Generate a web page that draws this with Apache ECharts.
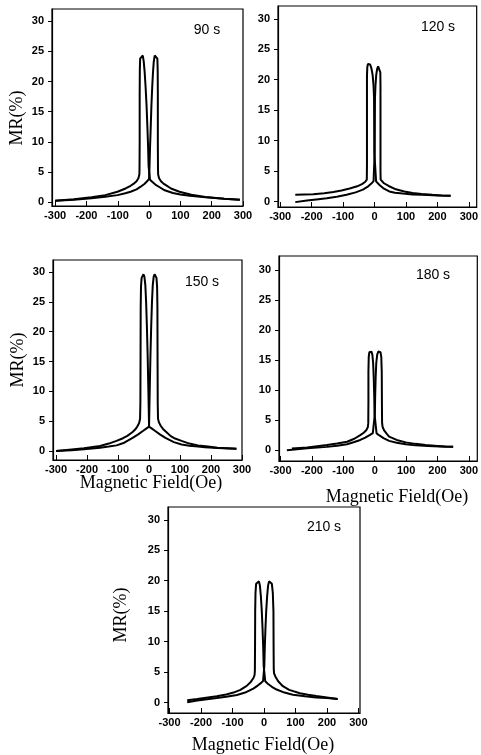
<!DOCTYPE html>
<html>
<head>
<meta charset="utf-8">
<script src="https://cdn.jsdelivr.net/npm/echarts@6/dist/echarts.min.js"></script>
<style>
  html, body { margin: 0; padding: 0; background: #fff; }
  #chart { width: 481px; height: 755px; }
</style>
</head>
<body>
<div id="chart"></div>
<script>
// annealing times, one panel each
var panelNames = ["90 s", "120 s", "150 s", "180 s", "210 s"];
var xTicks = [-300, -200, -100, 0, 100, 200, 300];
var yTicks = [0, 5, 10, 15, 20, 25, 30];

// [H (Oe), MR (%)] - sweep from +H to -H
var mr90Down = [[290,0.45],[240,0.6],[180,0.85],[130,1.1],[100,1.3],[76,1.55],[50,2.0],[34,2.5],[20,2.95],[10,3.4],[3,3.75],[0,3.9],
  [-1.5,6],[-3,9],[-5,12],[-8,16],[-11,19],[-14,21.5],[-17,23.3],[-20,24.3],[-23,24.6],[-26,24.5],[-28.5,23.8],[-29.5,22],[-30,18],[-30,10],[-30.5,5.5],[-31,4.6],
  [-34,4.0],[-40,3.5],[-50,3.05],[-59,2.75],[-75,2.3],[-101,1.75],[-140,1.2],[-184,0.85],[-240,0.5],[-300,0.25]];
// sweep from -H to +H
var mr90Up = [[-300,0.25],[-240,0.45],[-184,0.7],[-140,0.95],[-101,1.2],[-76,1.5],[-59,1.75],[-40,2.15],[-28,2.55],[-15,3.05],[-7,3.45],[-2,3.75],[0,3.9],
  [1.5,6],[3,9],[5,12],[7.5,16],[10,19],[12.5,21.5],[15,23.3],[18,24.3],[21,24.6],[24,24.5],[26.5,23.8],[27.5,22],[28,18],[28,10],[28.5,5.5],[29,4.6],
  [32,4.0],[38,3.5],[46,3.1],[55,2.8],[70,2.3],[97,1.75],[135,1.25],[180,0.9],[240,0.6],[290,0.45]];

var mr120Down = [[242,0.95],[200,1.0],[170,1.05],[150,1.1],[121,1.15],[90,1.3],[65,1.45],[47,1.65],[30,2.1],[15,2.75],[5,3.3],[0,3.6],
  [-0.5,8],[-1,13],[-1.5,17],[-3,19],[-6,20.8],[-10,21.9],[-14,22.5],[-18,22.7],[-21,22.6],[-23,22],[-24,20.5],[-24,14],[-24,6],[-24.5,3.6],
  [-30,3.2],[-40,2.85],[-55,2.5],[-79,2.15],[-105,1.8],[-131,1.55],[-160,1.35],[-195,1.2],[-252,1.1]];
var mr120Up = [[-252,-0.1],[-215,0.15],[-185,0.35],[-152,0.55],[-120,0.8],[-89,1.1],[-60,1.5],[-37,1.95],[-20,2.5],[-10,2.95],[-3,3.35],[0,3.6],
  [0.5,8],[1,13],[1.5,17],[3,19],[5.5,20.8],[8.5,21.8],[11.5,22.2],[14.5,22.3],[17,22.1],[18.5,21.2],[19,19],[19,12],[19,5],[19.5,3.6],
  [23,3.3],[30,3.0],[45,2.55],[68,2.0],[95,1.65],[121,1.4],[150,1.25],[184,1.1],[215,1.0],[242,0.95]];

var mr150Down = [[282,0.4],[221,0.5],[180,0.65],[158,0.75],[130,0.9],[105,1.1],[80,1.5],[53,2.2],[35,2.8],[20,3.35],[8,3.8],[0,4.1],
  [-1,7],[-2.5,11],[-4.5,16],[-7,21],[-9.5,25],[-12,27.8],[-15,29.2],[-18,29.6],[-21,29.5],[-24,29.0],[-26,27.5],[-27,24],[-27.5,15],[-28,8],[-29,5.4],
  [-32,4.7],[-38,4.1],[-45,3.6],[-53,3.2],[-70,2.55],[-84,2.15],[-105,1.7],[-130,1.25],[-158,0.85],[-210,0.45],[-250,0.25],[-300,0.0]];
var mr150Up = [[-300,0.0],[-250,0.15],[-210,0.3],[-158,0.55],[-130,0.75],[-105,0.95],[-80,1.4],[-53,2.2],[-35,2.8],[-20,3.35],[-8,3.8],[0,4.1],
  [1,7],[2.5,11],[4.5,16],[7,21],[9.5,25],[12,27.8],[15,29.2],[18,29.6],[21,29.5],[24,29.0],[26,27.5],[27,24],[27.5,15],[28,8],[29,5.4],
  [32,4.8],[38,4.2],[45,3.7],[53,3.3],[70,2.5],[84,2.1],[105,1.7],[130,1.25],[158,0.95],[190,0.75],[221,0.55],[282,0.4]];

var mr180Down = [[250,0.55],[226,0.55],[170,0.7],[130,0.8],[99,1.0],[70,1.25],[46,1.55],[28,2.0],[15,2.45],[6,2.8],[0,3.05],
  [-0.5,6],[-1.5,9],[-3,12],[-5,14.5],[-7.5,15.9],[-10.5,16.4],[-14,16.5],[-17,16.3],[-19,15.5],[-20,13],[-20,8],[-20.5,4.5],
  [-22,3.8],[-27,3.3],[-35,2.9],[-46,2.5],[-65,1.9],[-88,1.4],[-120,1.1],[-152,0.85],[-215,0.45],[-264,0.3]];
var mr180Up = [[-280,0.0],[-215,0.3],[-152,0.55],[-120,0.75],[-88,1.0],[-65,1.35],[-46,1.7],[-30,2.1],[-15,2.55],[-6,2.85],[0,3.05],
  [0.5,6],[1.5,9],[3,12],[5,14.5],[8,15.9],[11.5,16.4],[15,16.5],[18.5,16.3],[21,15.5],[22.5,13],[23,8],[23.5,4.6],
  [25,3.9],[30,3.3],[38,2.75],[46,2.25],[70,1.7],[99,1.3],[130,1.05],[162,0.85],[200,0.7],[226,0.6],[250,0.55]];

var mr210Down = [[234,0.6],[200,0.75],[166,0.85],[130,1.05],[92,1.3],[65,1.65],[40,2.15],[25,2.6],[12,3.1],[4,3.5],[0,3.7],
  [-1,6],[-2.5,9],[-4.5,12],[-7,15],[-10,17.5],[-13,19.2],[-16,19.9],[-19,20.1],[-22,20.0],[-25,19.5],[-27,18],[-28,15],[-28.5,9],[-29,5.2],
  [-30,4.5],[-34,4.0],[-42,3.4],[-55,2.75],[-75,2.1],[-97,1.65],[-120,1.35],[-150,1.05],[-212,0.6],[-244,0.4]];
var mr210Up = [[-244,0.05],[-212,0.35],[-150,0.75],[-120,0.95],[-86,1.25],[-60,1.65],[-34,2.3],[-20,2.8],[-10,3.2],[-3,3.55],[0,3.7],
  [1,6],[2.5,9],[4.5,12],[7,15],[10,17.5],[13,19.2],[16,19.9],[19,20.1],[22,20.0],[25,19.5],[28,18],[30,15],[30.5,9],[31,5.5],
  [32,4.8],[36,4.3],[45,3.5],[60,2.7],[80,2.1],[114,1.55],[140,1.3],[166,1.1],[200,0.85],[234,0.6]];

var curves = [
  [mr90Down, mr90Up],
  [mr120Down, mr120Up],
  [mr150Down, mr150Up],
  [mr180Down, mr180Up],
  [mr210Down, mr210Up]
];

// layout of the five frames
var boxes = [
  { left: 52, top: 9, width: 191, height: 197, x: [-310, 300], y: [-0.6, 32.0] },
  { left: 278, top: 6, width: 200, height: 201, x: [-307, 325], y: [-0.9, 32.1] },
  { left: 53, top: 260, width: 189, height: 200, x: [-310, 300], y: [-1.5, 32.0] },
  { left: 279, top: 256, width: 200, height: 205, x: [-305, 327], y: [-1.8, 32.3] },
  { left: 168, top: 507, width: 192, height: 206, x: [-305, 305], y: [-1.7, 32.1] }
];

var tickFont = { color: "#000", fontFamily: "Liberation Sans, Arial, sans-serif", fontSize: 11, fontWeight: "bold" };

var grid = [], xAxis = [], yAxis = [], series = [];
boxes.forEach(function (b, i) {
  grid.push({
    left: b.left, top: b.top, width: b.width, height: b.height,
    show: true, borderColor: "#000", borderWidth: 1.2, backgroundColor: "transparent"
  });
  xAxis.push({
    gridIndex: i, type: "value", min: b.x[0], max: b.x[1],
    splitLine: { show: false },
    axisLine: { show: true, onZero: false, lineStyle: { color: "#000", width: 1.2 } },
    axisTick: { show: true, inside: true, length: 5, customValues: xTicks, lineStyle: { color: "#000" } },
    axisLabel: Object.assign({ margin: 4, customValues: xTicks }, tickFont)
  });
  yAxis.push({
    gridIndex: i, type: "value", min: b.y[0], max: b.y[1],
    splitLine: { show: false },
    axisLine: { show: true, onZero: false, lineStyle: { color: "#000", width: 1.2 } },
    axisTick: { show: true, inside: false, length: 4, customValues: yTicks, lineStyle: { color: "#000" } },
    axisLabel: Object.assign({ margin: 8, customValues: yTicks }, tickFont)
  });
  curves[i].forEach(function (d) {
    series.push({
      type: "line", xAxisIndex: i, yAxisIndex: i, data: d,
      showSymbol: false, smooth: false, silent: true,
      lineStyle: { color: "#000", width: 2 }
    });
  });
});

var serif = '18px "Liberation Serif", "Times New Roman", serif';
var sans = '14px "Liberation Sans", Arial, sans-serif';
var tagPos = [[207, 30], [438, 27], [202, 282], [433, 275], [324, 527]];
var graphic = [];
panelNames.forEach(function (t, i) {
  graphic.push({ type: "text", x: tagPos[i][0], y: tagPos[i][1],
    style: { text: t, font: sans, fill: "#000", align: "center", verticalAlign: "middle" } });
});
[[17, 118], [18, 360], [121, 615]].forEach(function (p) {
  graphic.push({ type: "text", x: p[0], y: p[1], rotation: Math.PI / 2,
    style: { text: "MR(%)", font: serif, fill: "#000", align: "center", verticalAlign: "middle" } });
});
[[151, 483], [397, 497], [263, 745]].forEach(function (p) {
  graphic.push({ type: "text", x: p[0], y: p[1],
    style: { text: "Magnetic Field(Oe)", font: serif, fill: "#000", align: "center", verticalAlign: "middle" } });
});

var myChart = echarts.init(document.getElementById("chart"));
myChart.setOption({
  animation: false,
  backgroundColor: "#fff",
  grid: grid,
  xAxis: xAxis,
  yAxis: yAxis,
  series: series,
  graphic: graphic
});
</script>
</body>
</html>
